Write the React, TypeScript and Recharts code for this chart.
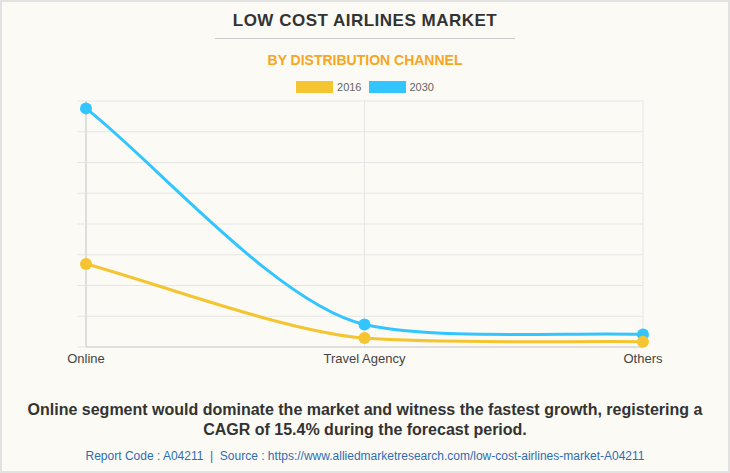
import React from 'react';
import { LineChart, Line, XAxis, YAxis, CartesianGrid } from 'recharts';

const channels = ['Online', 'Travel Agency', 'Others'];
const values2016 = [27.0, 2.9, 1.7];
const values2030 = [77.6, 7.3, 4.1];
const yTicks = [0, 10, 20, 30, 40, 50, 60, 70, 80];

const data = channels.map((name, i) => ({
  name,
  y2016: values2016[i],
  y2030: values2030[i],
}));

const FONT = '"Liberation Sans", Arial, sans-serif';
const YELLOW = '#F4C531';
const BLUE = '#33C5FF';

// soft spline: tangent from neighbours, flatter in y than in x
const softSpline = (tx: number, ty: number, tEnd: number) => (context: any) => {
  let pts: number[][] = [];
  return {
    areaStart() {},
    areaEnd() {},
    lineStart() {
      pts = [];
    },
    point(x: number, y: number) {
      pts.push([+x, +y]);
    },
    lineEnd() {
      const n = pts.length;
      if (!n) return;
      context.moveTo(pts[0][0], pts[0][1]);
      if (n === 1) return;
      const left: number[][] = [];
      const right: number[][] = [];
      for (let i = 0; i < n; i++) {
        const p = pts[i];
        if (i === 0) {
          const q = pts[1];
          right[i] = [p[0] + (q[0] - p[0]) * tEnd, p[1] + (q[1] - p[1]) * tEnd];
        } else if (i === n - 1) {
          const q = pts[i - 1];
          left[i] = [p[0] - (p[0] - q[0]) * tEnd, p[1] - (p[1] - q[1]) * tEnd];
        } else {
          const a = pts[i - 1];
          const b = pts[i + 1];
          const d01 = Math.hypot(p[0] - a[0], p[1] - a[1]);
          const d12 = Math.hypot(b[0] - p[0], b[1] - p[1]);
          const s01 = d01 / (d01 + d12);
          const s12 = d12 / (d01 + d12);
          const dx = b[0] - a[0];
          const dy = b[1] - a[1];
          left[i] = [p[0] - dx * tx * s01, p[1] - dy * ty * s01];
          right[i] = [p[0] + dx * tx * s12, p[1] + dy * ty * s12];
        }
      }
      for (let i = 0; i < n - 1; i++) {
        context.bezierCurveTo(right[i][0], right[i][1], left[i + 1][0], left[i + 1][1], pts[i + 1][0], pts[i + 1][1]);
      }
    },
  };
};

const curve = softSpline(0.28, 0.16, 0.25);

const LegendBox = () => (
  <div style={{ position: 'absolute', top: 79, left: -2, width: 730, display: 'flex', justifyContent: 'center', alignItems: 'center', fontSize: 11, color: '#666', lineHeight: '12px' }}>
    <span style={{ width: 37, height: 12, background: YELLOW, display: 'inline-block', marginRight: 4 }} />
    <span style={{ marginRight: 7 }}>2016</span>
    <span style={{ width: 37, height: 12, background: BLUE, display: 'inline-block', marginRight: 4 }} />
    <span>2030</span>
  </div>
);

export default function App() {
  return (
    <div
      style={{
        position: 'absolute',
        left: 0,
        top: 0,
        width: 730,
        height: 473,
        boxSizing: 'border-box',
        border: '2px solid #e2e2e2',
        background: '#FBFAF5',
        fontFamily: FONT,
        overflow: 'hidden',
      }}
    >
      <div style={{ position: 'absolute', left: -2, top: -2, width: 730, height: 473 }}>
        <LineChart width={730} height={473} data={data} margin={{ top: 101, right: 87, left: 0, bottom: 96 }}>
          <CartesianGrid stroke="#e6e6e6" strokeWidth={1} />
          <XAxis
            dataKey="name"
            height={30}
            axisLine={{ stroke: '#cccccc' }}
            tickLine={false}
            tickSize={0}
            tickMargin={7}
            tick={{ fontSize: 13, fill: '#444', fontFamily: FONT }}
            interval={0}
          />
          <YAxis
            width={86}
            domain={[0, 80]}
            ticks={yTicks}
            axisLine={{ stroke: '#cccccc' }}
            tickLine={{ stroke: '#e6e6e6' }}
            tickSize={9}
            tickFormatter={() => ''}
          />
          <Line
            type={curve as any}
            dataKey="y2030"
            name="2030"
            stroke={BLUE}
            strokeWidth={3}
            dot={{ r: 6, fill: BLUE, stroke: BLUE, strokeWidth: 0 }}
            activeDot={false}
            isAnimationActive={false}
          />
          <Line
            type={curve as any}
            dataKey="y2016"
            name="2016"
            stroke={YELLOW}
            strokeWidth={3}
            dot={{ r: 6, fill: YELLOW, stroke: YELLOW, strokeWidth: 0 }}
            activeDot={false}
            isAnimationActive={false}
          />
        </LineChart>
      </div>
      <div style={{ position: 'absolute', top: 9, left: -2, width: 730, textAlign: 'center', fontSize: 17, fontWeight: 'bold', color: '#333', letterSpacing: 0.5 }}>
        LOW COST AIRLINES MARKET
      </div>
      <div style={{ position: 'absolute', top: 36, left: 213, width: 300, borderTop: '1px solid #cccccc' }} />
      <div style={{ position: 'absolute', top: 50, left: -2, width: 730, textAlign: 'center', fontSize: 14, fontWeight: 'bold', color: '#F5A623' }}>
        BY DISTRIBUTION CHANNEL
      </div>
      <LegendBox />
      <div style={{ position: 'absolute', top: 398, left: -2, width: 730, textAlign: 'center', fontSize: 16, fontWeight: 'bold', color: '#333', lineHeight: '20px' }}>
        Online segment would dominate the market and witness the fastest growth, registering a
        <br />
        CAGR of 15.4% during the forecast period.
      </div>
      <div style={{ position: 'absolute', top: 447, left: -2, width: 730, textAlign: 'center', fontSize: 12, color: '#2E6DB4' }}>
        Report Code : A04211&nbsp;&nbsp;|&nbsp;&nbsp;Source : https://www.alliedmarketresearch.com/low-cost-airlines-market-A04211
      </div>
    </div>
  );
}
